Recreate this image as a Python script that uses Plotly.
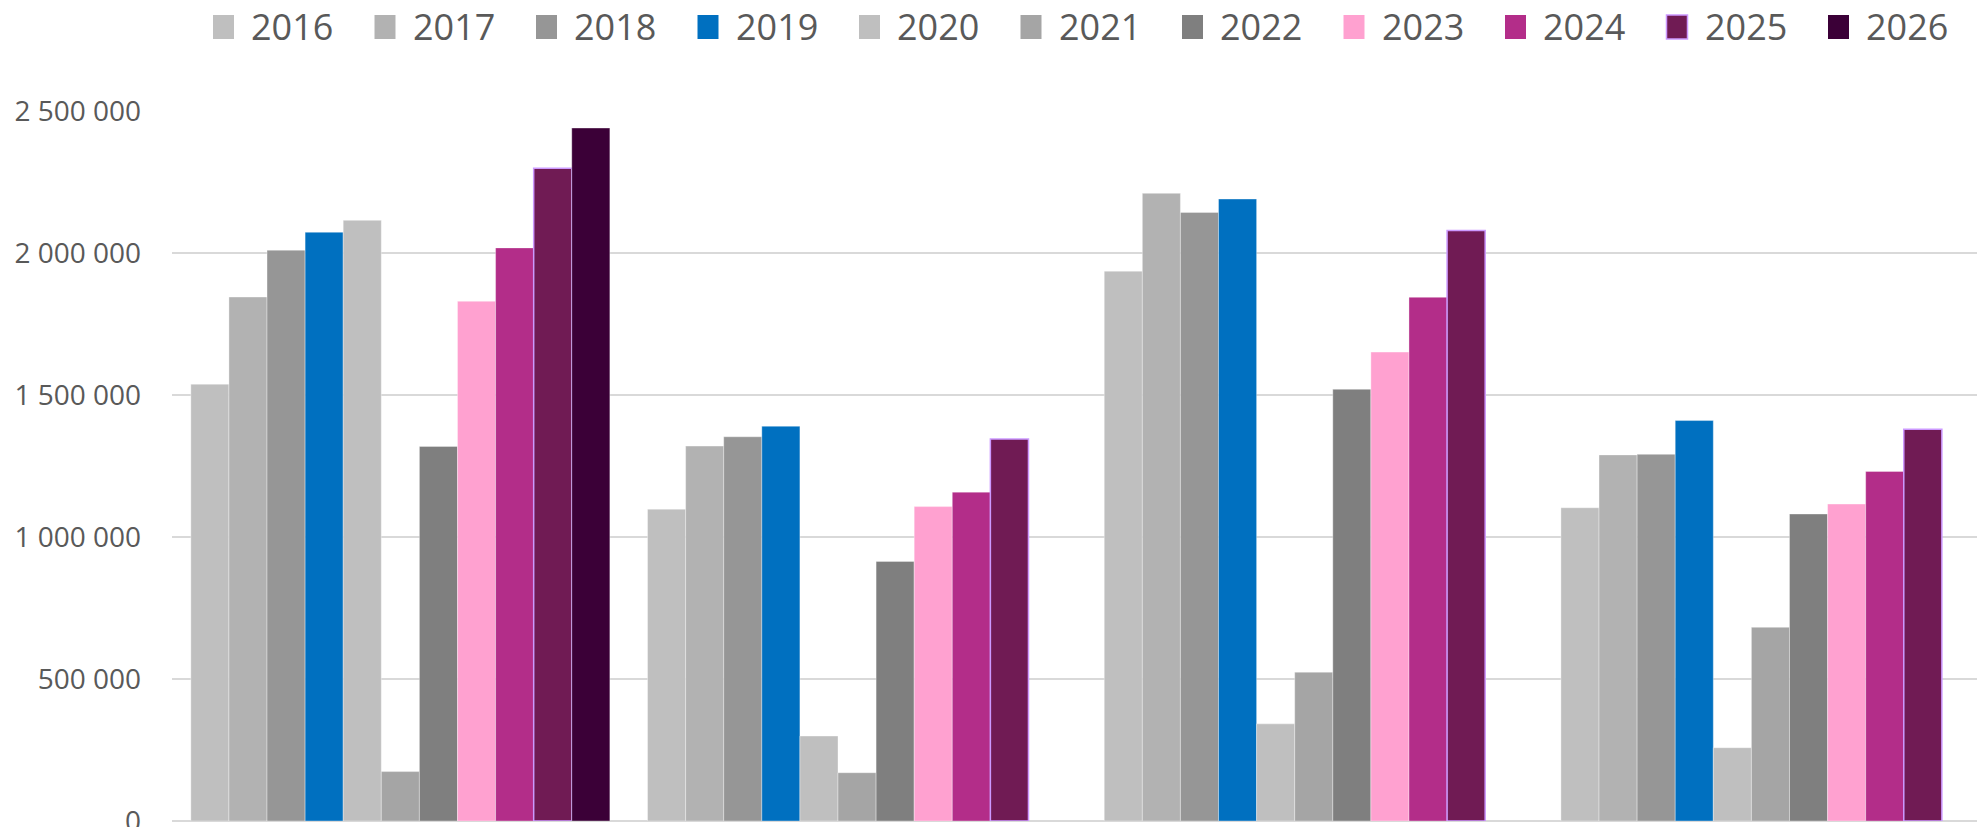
import plotly.graph_objects as go

categories = ["Group 1", "Group 2", "Group 3", "Group 4"]
years = ["2016", "2017", "2018", "2019", "2020", "2021", "2022", "2023", "2024", "2025", "2026"]

v2016 = [1538000, 1098000, 1936000, 1103000]
v2017 = [1845000, 1320000, 2210000, 1289000]
v2018 = [2010000, 1353000, 2143000, 1291000]
v2019 = [2073000, 1390000, 2190000, 1410000]
v2020 = [2115000, 299000, 342000, 258000]
v2021 = [174000, 170000, 524000, 682000]
v2022 = [1319000, 914000, 1520000, 1081000]
v2023 = [1830000, 1107000, 1651000, 1116000]
v2024 = [2018000, 1158000, 1844000, 1231000]
v2025 = [2298000, 1345000, 2079000, 1379000]
v2026 = [2440000, None, None, None]

series_values = [v2016, v2017, v2018, v2019, v2020, v2021, v2022, v2023, v2024, v2025, v2026]

colors = ["#BFBFBF", "#B2B2B2", "#969696", "#0070C0", "#BFBFBF", "#A5A5A5",
          "#7F7F7F", "#FFA1D0", "#B32D89", "#701B54", "#3B0037"]
edge_colors = ["rgba(255,255,255,0.35)"] * 9 + ["#CC99FF", "rgba(255,255,255,0.35)"]
edge_widths = [1] * 9 + [1.5, 1]

y_tickvals = [0, 500000, 1000000, 1500000, 2000000, 2500000]
y_ticktext = ["0", "500 000", "1 000 000", "1 500 000", "2 000 000", "2 500 000"]

# the page's default body margin is removed (post_script), so figure px == screen px
W, H = 1977, 827
plot_left_s, plot_top_s, zero_s = 172, 111, 821
ML = plot_left_s
MT = plot_top_s
MB = H - zero_s
MR = 0
plot_w = W - ML - MR
plot_h = H - MT - MB
band_px = 456.7

fig = go.Figure()
for name, vals, c, ec, ew in zip(years, series_values, colors, edge_colors, edge_widths):
    fig.add_trace(go.Bar(
        x=categories, y=vals, name=name,
        marker=dict(color=c, line=dict(color=ec, width=ew)),
        showlegend=False,
    ))

# Manual legend (large swatches like the reference)
leg_start_px = 213
leg_step_px = 161.5
sw_w, sw_top, sw_bot = 21, 15, 39
text_off = 36
text_mid = 27

def px_to_paper_x(px):
    return (px - ML) / plot_w

def py_to_paper_y(py):
    return (H - MB - py) / plot_h

shapes = []
annotations = []
for i, (name, c) in enumerate(zip(years, colors)):
    x0 = leg_start_px + i * leg_step_px
    is_2025 = name == "2025"
    shapes.append(dict(
        type="rect", xref="paper", yref="paper",
        x0=px_to_paper_x(x0), x1=px_to_paper_x(x0 + sw_w),
        y0=py_to_paper_y(sw_bot), y1=py_to_paper_y(sw_top),
        fillcolor=c,
        line=dict(color="#CC99FF" if is_2025 else c, width=1.5 if is_2025 else 0),
    ))
    annotations.append(dict(
        xref="paper", yref="paper",
        x=px_to_paper_x(x0 + text_off), y=py_to_paper_y(text_mid),
        xanchor="left", yanchor="middle", showarrow=False,
        text=name, font=dict(family="Open Sans", size=36, color="#595959"),
    ))

fig.update_layout(
    width=W, height=H,
    margin=dict(l=ML, r=MR, t=MT, b=MB, pad=0, autoexpand=False),
    paper_bgcolor="white", plot_bgcolor="white",
    barmode="group", bargap=0.0825, bargroupgap=0,
    shapes=shapes, annotations=annotations,
    showlegend=False,
)
fig.update_xaxes(
    range=[-0.5, -0.5 + plot_w / band_px], automargin=False,
    showticklabels=False, showgrid=False, zeroline=False, showline=False, ticks="",
)
fig.update_yaxes(
    range=[0, 2500000], automargin=False,
    tickvals=y_tickvals, ticktext=y_ticktext,
    tickfont=dict(family="Open Sans", size=28, color="#595959"),
    showgrid=True, gridcolor="#D9D9D9", gridwidth=1.5,
    zeroline=True, zerolinecolor="#D9D9D9", zerolinewidth=1.5,
    showline=False, ticks="", ticklabelstandoff=30, ticklabeloverflow="allow",
)

fig.write_html("out.html",
               config={"displayModeBar": False},
               post_script="document.body.style.margin='0';document.body.style.overflow='hidden';")
